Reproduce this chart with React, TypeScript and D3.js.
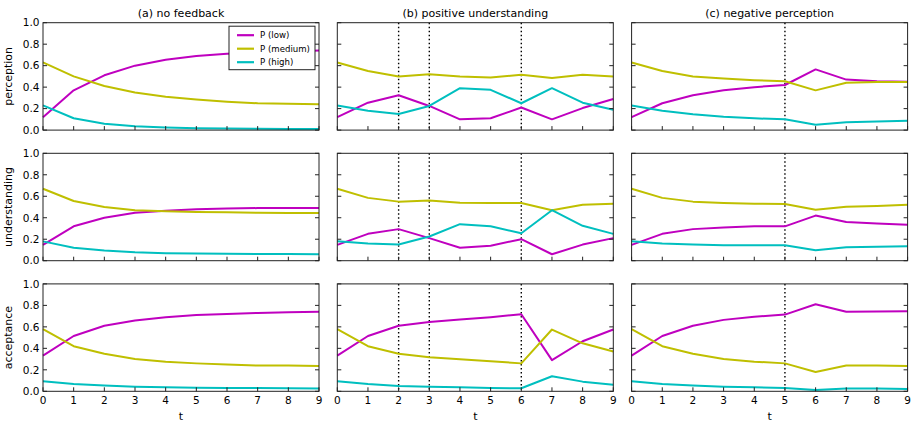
import React from 'react';
import * as d3 from 'd3';

// time steps
const steps = [0, 1, 2, 3, 4, 5, 6, 7, 8, 9];
const yTicks = [0, 0.2, 0.4, 0.6, 0.8, 1.0];

const scenarios = ['(a) no feedback', '(b) positive understanding', '(c) negative perception'];
const measures = ['perception', 'understanding', 'acceptance'];
const seriesNames = ['P (low)', 'P (medium)', 'P (high)'];
const seriesColors = ['#bf00bf', '#bfbf00', '#00bfbf'];

// feedback moments per scenario (dotted lines)
const feedbackA: number[] = [];
const feedbackB = [2, 3, 6];
const feedbackC = [5];

// (a) no feedback
const aPercLow = [0.12, 0.37, 0.51, 0.6, 0.655, 0.69, 0.71, 0.72, 0.73, 0.74];
const aPercMed = [0.63, 0.5, 0.41, 0.35, 0.31, 0.285, 0.265, 0.25, 0.245, 0.24];
const aPercHigh = [0.23, 0.11, 0.06, 0.035, 0.025, 0.018, 0.014, 0.012, 0.011, 0.01];
const aUndLow = [0.147, 0.32, 0.4, 0.447, 0.466, 0.478, 0.486, 0.49, 0.49, 0.49];
const aUndMed = [0.67, 0.556, 0.5, 0.47, 0.46, 0.453, 0.45, 0.447, 0.445, 0.444];
const aUndHigh = [0.18, 0.12, 0.094, 0.078, 0.07, 0.066, 0.065, 0.063, 0.062, 0.06];
const aAccLow = [0.332, 0.515, 0.61, 0.66, 0.69, 0.71, 0.72, 0.73, 0.735, 0.74];
const aAccMed = [0.58, 0.42, 0.35, 0.3, 0.276, 0.26, 0.25, 0.24, 0.24, 0.236];
const aAccHigh = [0.093, 0.068, 0.053, 0.043, 0.037, 0.034, 0.031, 0.03, 0.028, 0.025];

// (b) positive understanding
const bPercLow = [0.12, 0.255, 0.325, 0.225, 0.1, 0.11, 0.21, 0.1, 0.205, 0.29];
const bPercMed = [0.63, 0.55, 0.5, 0.52, 0.5, 0.49, 0.515, 0.485, 0.515, 0.5];
const bPercHigh = [0.23, 0.18, 0.15, 0.225, 0.39, 0.375, 0.25, 0.39, 0.255, 0.19];
const bUndLow = [0.147, 0.25, 0.294, 0.21, 0.12, 0.14, 0.2, 0.06, 0.15, 0.21];
const bUndMed = [0.67, 0.585, 0.55, 0.56, 0.54, 0.537, 0.537, 0.47, 0.52, 0.53];
const bUndHigh = [0.18, 0.16, 0.15, 0.225, 0.34, 0.32, 0.256, 0.47, 0.325, 0.25];
const bAccLow = [0.332, 0.515, 0.61, 0.646, 0.668, 0.69, 0.717, 0.29, 0.466, 0.575];
const bAccMed = [0.58, 0.42, 0.35, 0.317, 0.298, 0.28, 0.26, 0.575, 0.447, 0.37];
const bAccHigh = [0.093, 0.068, 0.05, 0.043, 0.037, 0.031, 0.028, 0.14, 0.09, 0.062];

// (c) negative perception
const cPercLow = [0.12, 0.25, 0.325, 0.37, 0.4, 0.42, 0.565, 0.47, 0.455, 0.45];
const cPercMed = [0.63, 0.55, 0.5, 0.48, 0.465, 0.455, 0.37, 0.44, 0.447, 0.447];
const cPercHigh = [0.23, 0.18, 0.147, 0.125, 0.11, 0.1, 0.05, 0.072, 0.08, 0.087];
const cUndLow = [0.147, 0.25, 0.294, 0.31, 0.32, 0.32, 0.42, 0.36, 0.347, 0.334];
const cUndMed = [0.67, 0.585, 0.55, 0.537, 0.53, 0.528, 0.475, 0.503, 0.51, 0.52];
const cUndHigh = [0.18, 0.16, 0.15, 0.144, 0.144, 0.144, 0.097, 0.125, 0.13, 0.134];
const cAccLow = [0.332, 0.515, 0.61, 0.665, 0.695, 0.714, 0.81, 0.74, 0.742, 0.745];
const cAccMed = [0.58, 0.42, 0.35, 0.3, 0.276, 0.26, 0.18, 0.24, 0.24, 0.236];
const cAccHigh = [0.093, 0.068, 0.053, 0.043, 0.037, 0.031, 0.012, 0.025, 0.025, 0.022];

// grid[row][col] -> [low, med, high]
const grid = [
  [[aPercLow, aPercMed, aPercHigh], [bPercLow, bPercMed, bPercHigh], [cPercLow, cPercMed, cPercHigh]],
  [[aUndLow, aUndMed, aUndHigh], [bUndLow, bUndMed, bUndHigh], [cUndLow, cUndMed, cUndHigh]],
  [[aAccLow, aAccMed, aAccHigh], [bAccLow, bAccMed, bAccHigh], [cAccLow, cAccMed, cAccHigh]]
];
const feedback = [feedbackA, feedbackB, feedbackC];

const W = 916;
const H = 422;
const left = 43;
const top = 22.7;
const panelW = 276;
const panelH = 107.4;
const gapX = 18.3;
const gapY = 23.2;
const font = '"DejaVu Sans", sans-serif';
const axisColor = '#222';

function Panel({ row, col }: { row: number; col: number }) {
  const x0 = left + col * (panelW + gapX);
  const y0 = top + row * (panelH + gapY);
  const x = d3.scaleLinear().domain([0, 9]).range([0, panelW]);
  const y = d3.scaleLinear().domain([0, 1]).range([panelH, 0]);
  const line = d3.line<number>().x((d, i) => x(steps[i])).y(d => y(d));
  const series = grid[row][col];
  const tick = 4;

  return (
    <g transform={`translate(${x0},${y0})`}>
      {row === 0 && (
        <text x={panelW / 2} y={-6.2} textAnchor="middle" fontSize={11} fontFamily={font}>
          {scenarios[col]}
        </text>
      )}
      {feedback[col].map(t => (
        <line key={'fb' + t} x1={x(t)} x2={x(t)} y1={0} y2={panelH}
          stroke="#000" strokeWidth={1.4} strokeDasharray="1.5,2.5" />
      ))}
      {series.map((vals, i) => (
        <path key={'s' + i} d={line(vals) || ''} fill="none" stroke={seriesColors[i]}
          strokeWidth={2} strokeLinejoin="round" />
      ))}
      {/* y ticks, both sides, inward */}
      {yTicks.map(v => (
        <g key={'yt' + v}>
          <line x1={0} x2={tick} y1={y(v)} y2={y(v)} stroke={axisColor} />
          <line x1={panelW - tick} x2={panelW} y1={y(v)} y2={y(v)} stroke={axisColor} />
          {col === 0 && (
            <text x={-3.5} y={y(v)} dy="0.36em" textAnchor="end" fontSize={10.5} fontFamily={font}>
              {d3.format('.1f')(v)}
            </text>
          )}
        </g>
      ))}
      {/* x ticks, bottom, inward */}
      {steps.map(t => (
        <g key={'xt' + t}>
          <line x1={x(t)} x2={x(t)} y1={panelH} y2={panelH - tick} stroke={axisColor} />
          {row === 2 && (
            <text x={x(t)} y={panelH + 13} textAnchor="middle" fontSize={10.5} fontFamily={font}>
              {t}
            </text>
          )}
        </g>
      ))}
      <rect x={0} y={0} width={panelW} height={panelH} fill="none" stroke={axisColor} strokeWidth={1} />
      {col === 0 && (
        <text transform={`translate(${-31.5},${panelH / 2}) rotate(-90)`} textAnchor="middle"
          fontSize={11} fontFamily={font}>
          {measures[row]}
        </text>
      )}
      {row === 2 && (
        <text x={panelW / 2} y={panelH + 29} textAnchor="middle" fontSize={11} fontFamily={font}>
          t
        </text>
      )}
      {row === 0 && col === 0 && (
        <g transform={`translate(${186},${3.5})`}>
          <rect x={0} y={0} width={86} height={43.5} fill="#fff" stroke={axisColor} strokeWidth={1} />
          {seriesNames.map((name, i) => (
            <g key={name} transform={`translate(0,${9 + i * 13.5})`}>
              <line x1={8} x2={25} y1={0} y2={0} stroke={seriesColors[i]} strokeWidth={2.2} />
              <text x={31} y={0} dy="0.35em" fontSize={8.6} fontFamily={font}>{name}</text>
            </g>
          ))}
        </g>
      )}
    </g>
  );
}

export default function App() {
  const cells: [number, number][] = [];
  measures.forEach((_, r) => scenarios.forEach((__, c) => cells.push([r, c])));
  return (
    <svg width={W} height={H} style={{ position: 'absolute', left: 0, top: 0, background: '#fff' }}>
      {cells.map(([r, c]) => <Panel key={r + '-' + c} row={r} col={c} />)}
    </svg>
  );
}
